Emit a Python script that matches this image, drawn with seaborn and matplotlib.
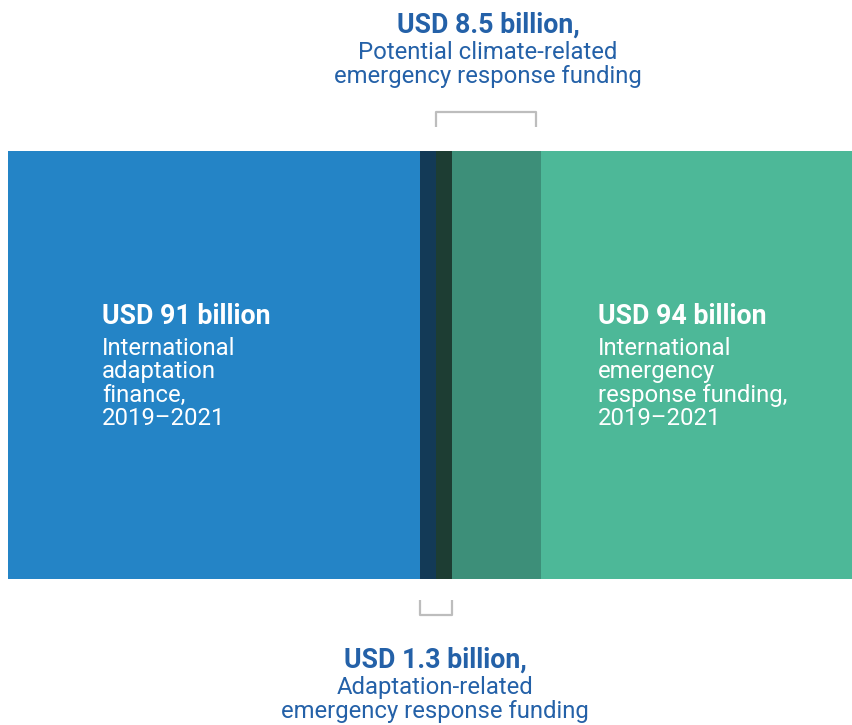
import matplotlib.pyplot as plt
import seaborn as sns

# segments of the bar, left to right (widths, in px units)
segments = ["Adaptation only", "Adaptation-related ER", "Overlap", "Climate-related ER", "Emergency response only"]
widths = [412, 16, 16, 89, 312]
colors = ["#2484c6", "#133a57", "#1d3d33", "#3d8f79", "#4db898"]

left_title = "USD 91 billion"
left_lines = ["International", "adaptation", "finance,", "2019\u20132021"]
right_title = "USD 94 billion"
right_lines = ["International", "emergency", "response funding,", "2019\u20132021"]
top_title = "USD 8.5 billion,"
top_lines = ["Potential climate-related", "emergency response funding"]
bottom_title = "USD 1.3 billion,"
bottom_lines = ["Adaptation-related", "emergency response funding"]

sns.set_style("white")
plt.rcParams["font.family"] = ["Roboto", "DejaVu Sans"]

fig = plt.figure(figsize=(8.53, 7.25), dpi=100)
ax = fig.add_axes([0, 0, 1, 1])

lefts = [sum(widths[:i]) for i in range(len(widths))]
ax.barh(y=[365] * len(widths), width=widths, left=lefts, height=428,
        color=colors, edgecolor="none")

ax.set_xlim(-8, 845)
ax.set_ylim(725, 0)
ax.axis("off")

blue_txt = "#2461a8"
grey = "#bdbdbd"
TITLE_FS = 19.3
BODY_FS = 17.2


def label(x, y, title, lines, color, ha, first_gap, step):
    ax.text(x, y, title, color=color, fontsize=TITLE_FS, fontweight="bold",
            ha=ha, va="baseline")
    for i, line in enumerate(lines):
        ax.text(x, y + first_gap + i * step, line, color=color, fontsize=BODY_FS,
                ha=ha, va="baseline")


# white labels inside bar
label(94, 324, left_title, left_lines, "white", "left", 31, 23.4)
label(590, 324, right_title, right_lines, "white", "left", 31, 23.4)

# top bracket (spans climate-related part)
x0 = lefts[2]
x1 = lefts[3] + widths[3] - 5
ax.plot([x0, x0, x1, x1], [127, 112, 112, 127], color=grey, lw=1.6, solid_capstyle="butt")
label(480, 33, top_title, top_lines, blue_txt, "center", 26, 23.5)

# bottom bracket (adaptation-related part)
b0 = lefts[1]
b1 = lefts[2] + widths[2]
ax.plot([b0, b0, b1, b1], [600, 615, 615, 600], color=grey, lw=1.6, solid_capstyle="butt")
label(427, 668, bottom_title, bottom_lines, blue_txt, "center", 26, 24)

fig.savefig("out.png", dpi=100)
